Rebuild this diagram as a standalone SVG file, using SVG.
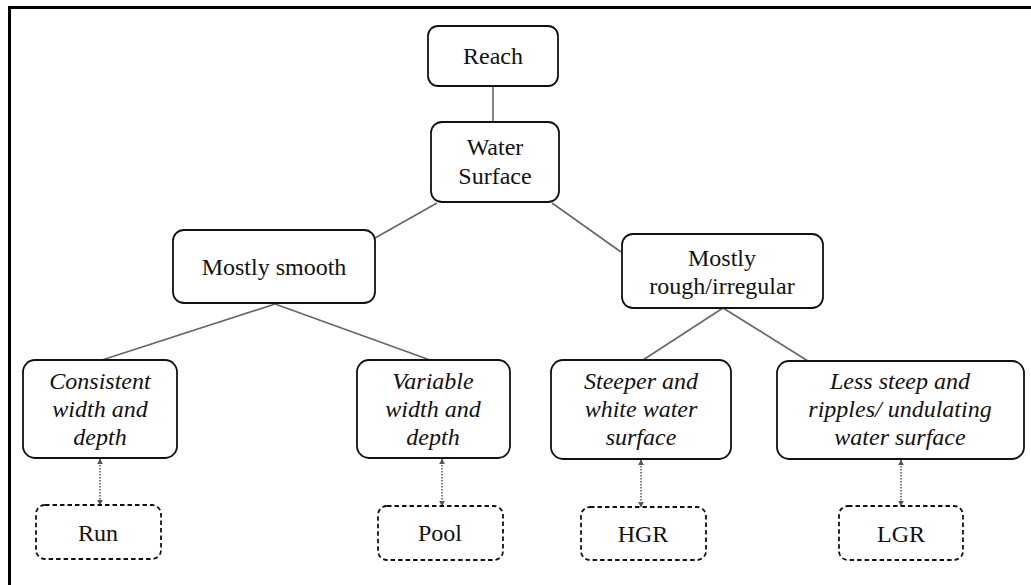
<svg xmlns="http://www.w3.org/2000/svg" width="1031" height="585" viewBox="0 0 1031 585">
<style>
.box{fill:#fff;stroke:#111;stroke-width:1.8}
.dbox{fill:#fff;stroke:#111;stroke-width:1.8;stroke-dasharray:4.5 3}
.t{font-family:"Liberation Serif","Times New Roman",serif;font-size:24px;fill:#111;text-anchor:middle}
.i{font-style:italic}
.ln{stroke:#666;stroke-width:1.6;fill:none}
.dl{stroke:#555;stroke-width:1.5;stroke-dasharray:1.5 1.5;fill:none}
</style>
<defs>
<marker id="ah" viewBox="0 0 10 10" refX="9" refY="5" markerWidth="6" markerHeight="6" orient="auto-start-reverse" markerUnits="userSpaceOnUse">
<path d="M0,0 L10,5 L0,10 z" fill="#555"/>
</marker>
</defs>
<rect width="1031" height="585" fill="#fff"/>
<path d="M9.5,600 V7.5 H1040" fill="none" stroke="#000" stroke-width="3"/>
<g id="connectors">
<line class="ln" x1="493" y1="86" x2="493" y2="122"/>
<line class="ln" x1="437" y1="203" x2="375" y2="238"/>
<line class="ln" x1="552" y1="203" x2="621" y2="252"/>
<line class="ln" x1="275" y1="304" x2="102" y2="360"/>
<line class="ln" x1="275" y1="304" x2="430" y2="360"/>
<line class="ln" x1="723" y1="308" x2="643" y2="360"/>
<line class="ln" x1="723" y1="308" x2="808" y2="361"/>
<line class="dl" x1="100" y1="459" x2="100" y2="505" marker-start="url(#ah)" marker-end="url(#ah)"/>
<line class="dl" x1="442" y1="459" x2="442" y2="506" marker-start="url(#ah)" marker-end="url(#ah)"/>
<line class="dl" x1="641" y1="460" x2="641" y2="507" marker-start="url(#ah)" marker-end="url(#ah)"/>
<line class="dl" x1="901" y1="460" x2="901" y2="506" marker-start="url(#ah)" marker-end="url(#ah)"/>
</g>
<g id="reach"><rect class="box" x="428" y="26" width="130" height="60" rx="10"/><text class="t" x="493" y="64">Reach</text></g>
<g id="water"><rect class="box" x="431" y="122" width="128" height="80" rx="11"/><text class="t" x="495" y="155">Water</text><text class="t" x="495" y="184">Surface</text></g>
<g id="smooth"><rect class="box" x="173" y="230" width="202" height="73" rx="11"/><text class="t" x="274" y="275">Mostly smooth</text></g>
<g id="rough"><rect class="box" x="622" y="234" width="201" height="74" rx="11"/><text class="t" x="722" y="266">Mostly</text><text class="t" x="722" y="294">rough/irregular</text></g>
<g id="consistent"><rect class="box" x="23" y="360" width="154" height="98" rx="12"/><text class="t i" x="100" y="389">Consistent</text><text class="t i" x="100" y="417">width and</text><text class="t i" x="100" y="445">depth</text></g>
<g id="variable"><rect class="box" x="357" y="360" width="153" height="98" rx="12"/><text class="t i" x="433" y="389">Variable</text><text class="t i" x="433" y="417">width and</text><text class="t i" x="433" y="445">depth</text></g>
<g id="steeper"><rect class="box" x="551" y="360" width="180" height="99" rx="12"/><text class="t i" x="641" y="389">Steeper and</text><text class="t i" x="641" y="417">white water</text><text class="t i" x="641" y="445">surface</text></g>
<g id="lesssteep"><rect class="box" x="777" y="361" width="247" height="98" rx="12"/><text class="t i" x="900" y="389">Less steep and</text><text class="t i" x="900" y="417">ripples/ undulating</text><text class="t i" x="900" y="445">water surface</text></g>
<g id="run"><rect class="dbox" x="36" y="505" width="125" height="54" rx="9"/><text class="t" x="98" y="541">Run</text></g>
<g id="pool"><rect class="dbox" x="378" y="506" width="125" height="54" rx="9"/><text class="t" x="440" y="541">Pool</text></g>
<g id="hgr"><rect class="dbox" x="581" y="507" width="125" height="53" rx="9"/><text class="t" x="643" y="542">HGR</text></g>
<g id="lgr"><rect class="dbox" x="839" y="506" width="124" height="54" rx="9"/><text class="t" x="901" y="542">LGR</text></g>
</svg>
